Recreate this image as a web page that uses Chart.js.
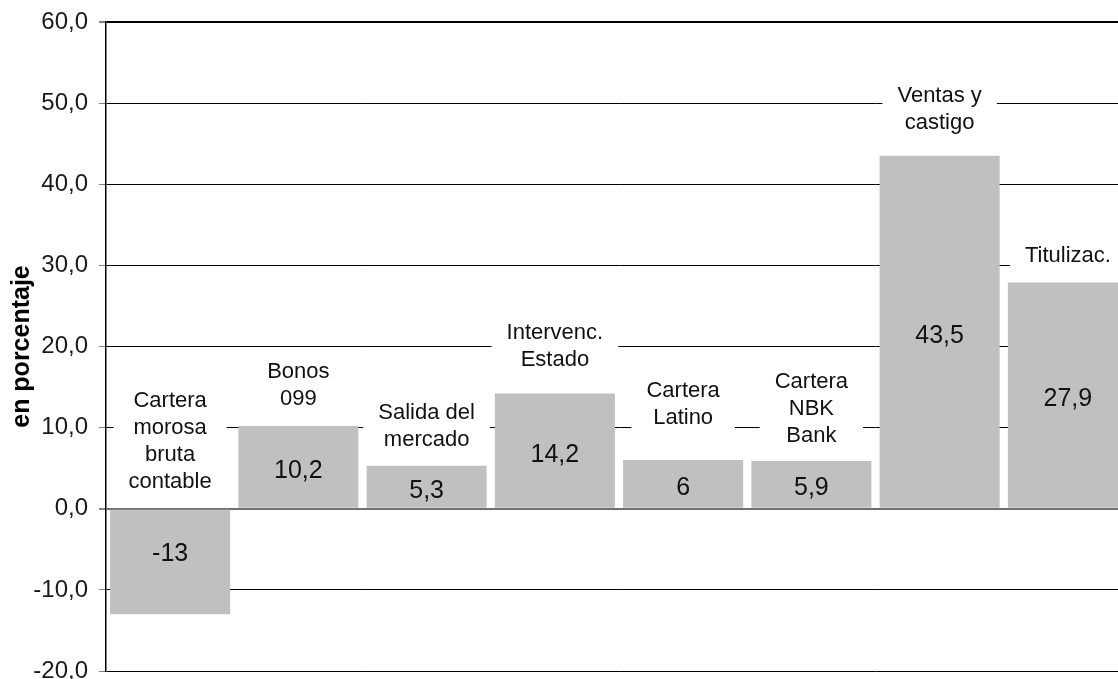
<!DOCTYPE html>
<html>
<head>
<meta charset="utf-8">
<script src="https://cdn.jsdelivr.net/npm/chart.js@4"></script>
<style>
    html, body { margin: 0; padding: 0; background: #ffffff; overflow: hidden; }
    #wrap { width: 1132px; height: 679px; }
</style>
</head>
<body>
<div id="wrap"><canvas id="chart"></canvas></div>
<script>
// datos
const categories = [
    ["Cartera", "morosa", "bruta", "contable"],
    ["Bonos", "099"],
    ["Salida del", "mercado"],
    ["Intervenc.", "Estado"],
    ["Cartera", "Latino"],
    ["Cartera", "NBK", "Bank"],
    ["Ventas y", "castigo"],
    ["Titulizac."]
];
const values = [-13, 10.2, 5.3, 14.2, 6, 5.9, 43.5, 27.9];
const yTicks = [-20, -10, 0, 10, 20, 30, 40, 50, 60];

// distancia (px) entre la última línea del rótulo y la barra
const labelLift = [28, 27, 26, 34, 42, 25, 33, 26];

const FONT = "'Liberation Sans', Arial, sans-serif";

function fmtTick(v) {
    return v.toFixed(1).replace(".", ",");
}

function fmtValue(v) {
    return String(v).replace(".", ",");
}

const barLabels = {
    id: "barLabels",
    afterDatasetsDraw(chart) {
        const ctx = chart.ctx;
        const meta = chart.getDatasetMeta(0);
        ctx.save();
        ctx.textAlign = "center";
        ctx.textBaseline = "middle";

        meta.data.forEach((bar, i) => {
            const lines = categories[i];
            const anchor = values[i] >= 0 ? bar.y : bar.base;
            const lineH = 27;

            // rótulo sobre la barra, con fondo blanco que tapa la rejilla
            ctx.font = "22px " + FONT;
            let maxW = 0;
            lines.forEach(l => { maxW = Math.max(maxW, ctx.measureText(l).width); });
            const lastY = anchor - labelLift[i];
            const firstY = lastY - (lines.length - 1) * lineH;
            ctx.fillStyle = "#ffffff";
            ctx.fillRect(bar.x - maxW / 2 - 15, firstY - 14, maxW + 30, lastY - firstY + 28);
            ctx.fillStyle = "#111111";
            lines.forEach((l, k) => {
                ctx.fillText(l, bar.x, firstY + k * lineH);
            });

            // valor dentro de la barra
            ctx.font = "25px " + FONT;
            const shift = values[i] >= 0 ? 4 : -8;
            ctx.fillText(fmtValue(values[i]), bar.x, (bar.y + bar.base) / 2 + shift);
        });

        ctx.restore();
    }
};

new Chart(document.getElementById("chart"), {

    type: "bar",

    data: {
        labels: categories,
        datasets: [{
            data: values,
            backgroundColor: "#c0c0c0",
            borderWidth: 0,
            barPercentage: 0.936,
            categoryPercentage: 1
        }]
    },

    options: {
        responsive: true,
        maintainAspectRatio: false,
        animation: false,
        layout: {
            padding: { top: 22, bottom: 8, left: 0, right: 0 }
        },
        plugins: {
            legend: { display: false },
            tooltip: { enabled: false }
        },
        scales: {
            x: {
                display: false
            },
            y: {
                min: -20,
                max: 60,
                afterBuildTicks: scale => {
                    scale.ticks = yTicks.map(v => ({ value: v }));
                },
                afterFit: scale => {
                    scale.width = 106;
                    scale.paddingTop = 0;
                    scale.paddingBottom = 0;
                },
                border: {
                    display: true,
                    color: "#000000",
                    width: 1.5
                },
                grid: {
                    color: ctx => ctx.tick && ctx.tick.value === 0 ? "#707070" : "#000000",
                    lineWidth: ctx => ctx.tick && (ctx.tick.value === 0 || ctx.tick.value === 60) ? 2 : 1,
                    drawTicks: true,
                    tickLength: 7,
                    tickColor: "#808080"
                },
                ticks: {
                    color: "#1a1a1a",
                    padding: 11,
                    font: { family: FONT, size: 24 },
                    callback: v => fmtTick(v)
                },
                title: {
                    display: true,
                    text: "en porcentaje",
                    color: "#000000",
                    padding: { top: 7, bottom: 0 },
                    font: { family: FONT, size: 25, weight: "bold" }
                }
            }
        }
    },

    plugins: [barLabels]

});
</script>
</body>
</html>
